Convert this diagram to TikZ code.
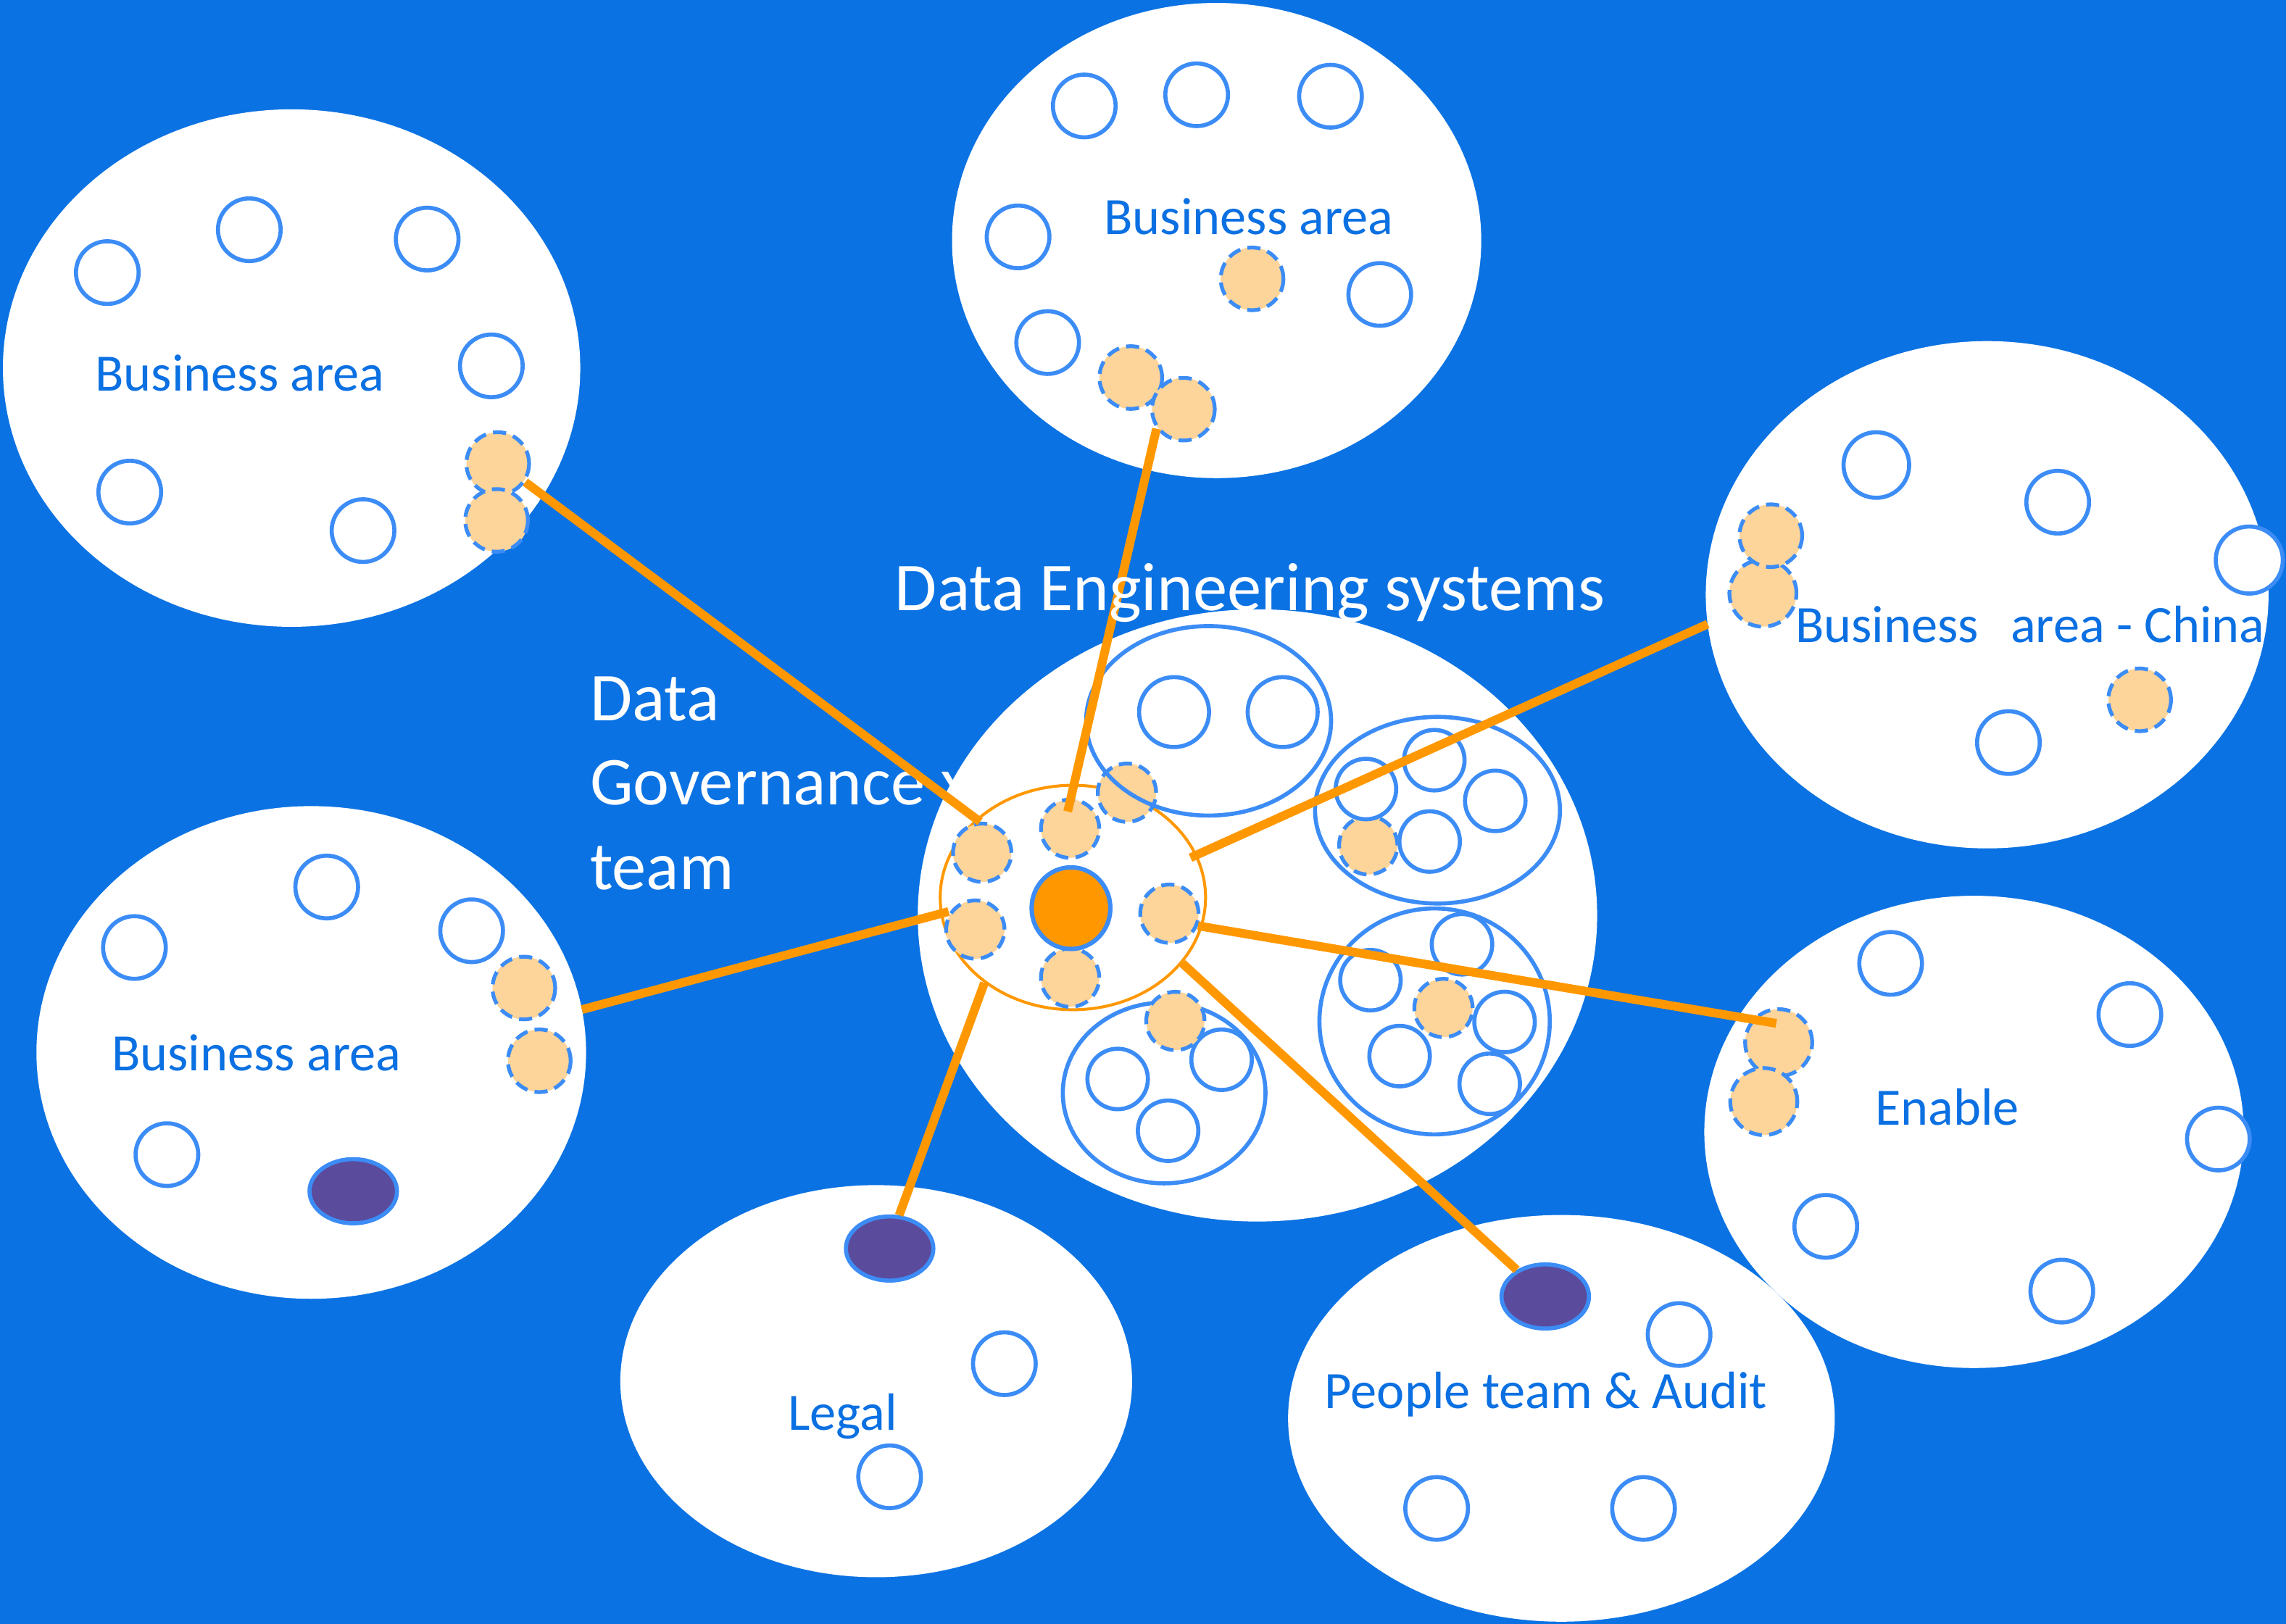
\documentclass[tikz,border=0pt]{standalone}
\usepackage{fontspec}
\setmainfont{Carlito}
\usetikzlibrary{shapes.geometric,calc}
\definecolor{bgblue}{RGB}{11,114,227}
\definecolor{txtblue}{RGB}{11,112,226}
\definecolor{lineblue}{RGB}{60,140,246}
\definecolor{peach}{RGB}{253,212,154}
\definecolor{dgorange}{RGB}{255,152,0}
\definecolor{purp}{RGB}{91,75,157}
\begin{document}
\begin{tikzpicture}[x=1pt,y=-1pt,
  big/.style={ellipse,fill=white,inner sep=0pt,outer sep=0pt},
  sc/.style={circle,draw=lineblue,line width=2.8pt,fill=white,minimum size=43pt,inner sep=0pt},
  scs/.style={sc,minimum size=41.5pt},
  pc/.style={circle,draw=lineblue,line width=2.6pt,dash pattern=on 9pt off 5pt,fill=peach,minimum size=43pt,inner sep=0pt},
  pcs/.style={pc,minimum size=40pt},
  pcl/.style={pc,minimum size=46pt},
  pur/.style={ellipse,draw=lineblue,line width=2.8pt,fill=purp,minimum width=60pt,minimum height=44pt,inner sep=0pt},
  grp/.style={ellipse,draw=lineblue,line width=2.8pt,inner sep=0pt},
  conn/.style={draw=dgorange,line width=6pt},
  lbl/.style={text=txtblue,font=\fontsize{36}{43}\selectfont,inner sep=0pt,anchor=base},
  wlbl/.style={text=white,font=\fontsize{47}{56}\selectfont,inner sep=0pt}]
\useasboundingbox (0,0) rectangle (1568,1114);
\fill[bgblue] (0,0) rectangle (1568,1114);

% Data Governance team label (partly hidden behind the central ellipse)
\node[wlbl,anchor=base west] (dg1) at (404.5,494.6) {Data};
\node[wlbl,anchor=base west] (dg2) at (404.5,552) {Governance x};
\node[wlbl,anchor=base west] (dg3) at (404.5,610) {team};

% big white areas
\node[big,minimum width=396pt,minimum height=355pt] (baA) at (200,252.5) {};
\node[big,minimum width=363pt,minimum height=326pt] (baB) at (834.5,165) {};
\node[big,minimum width=386pt,minimum height=348pt] (baC) at (1363,408) {};
\node[big,minimum width=377pt,minimum height=338pt] (baD) at (213.5,722) {};
\node[big,minimum width=370pt,minimum height=324pt] (enab) at (1354,776.5) {};
\node[big,minimum width=351pt,minimum height=269pt] (legal) at (601,947.5) {};
\node[big,minimum width=375pt,minimum height=279pt] (people) at (1071,973) {};
\node[big,minimum width=466pt,minimum height=420pt] (des) at (862.5,628) {};

% central system
\node[ellipse,draw=dgorange,line width=2pt,minimum width=182pt,minimum height=154pt,inner sep=0pt] (ring) at (735.9,615.7) {};
\node[pcs] (c6) at (773,543.8) {};
\node[grp,minimum width=168pt,minimum height=130pt] (gT) at (829,494.5) {};
\node[sc,minimum width=46pt,minimum height=48pt] (t1) at (805.3,488.5) {};
\node[sc,minimum width=46pt,minimum height=48pt] (t2) at (879.8,488.5) {};
\node[grp,minimum width=168pt,minimum height=128pt] (gUR) at (986,555.8) {};
\node[pcs] (c8) at (938.5,579.9) {};
\node[scs] (u1) at (936.9,541.3) {};
\node[scs] (u2) at (983.8,521.5) {};
\node[scs] (u3) at (1025.6,549.4) {};
\node[scs] (u4) at (980.6,577.3) {};
\node[grp,minimum width=158pt,minimum height=155pt] (gLR) at (984,700.7) {};
\node[scs] (r1) at (1002.8,647.8) {};
\node[scs] (r2) at (940,672.4) {};
\node[scs] (r3) at (1032,701.1) {};
\node[scs] (r4) at (960,724.5) {};
\node[scs] (r5) at (1021.8,743.5) {};
\node[pcs] (c9) at (990.1,691.5) {};
\node[grp,minimum width=139pt,minimum height=124pt] (gLB) at (798.5,749.8) {};
\node[scs] (b1) at (766.6,740.2) {};
\node[scs] (b2) at (837.9,727) {};
\node[scs] (b3) at (801.2,775.7) {};
\node[pcs] (c7) at (806.2,700.4) {};
\node[pcs] (c1) at (734,568.5) {};
\node[pcs] (c2) at (673.7,585) {};
\node[pcs] (c3) at (669,637.7) {};
\node[pcs] (c4) at (734,670.7) {};
\node[pcs] (c5) at (802.1,626.8) {};
\node[ellipse,draw=lineblue,line width=3pt,fill=dgorange,minimum width=54pt,minimum height=56pt,inner sep=0pt] (core) at (734.6,623) {};

% top-left business area
\node[sc] at (73.6,187) {};
\node[sc] at (171,157.6) {};
\node[sc] at (293,164) {};
\node[sc] at (337,251) {};
\node[sc] at (89,337.6) {};
\node[sc] at (249,364) {};
\node[pc] (ap1) at (341.4,318) {};
\node[pc] (ap2) at (340.6,357) {};

% top business area
\node[sc] at (743.7,72.7) {};
\node[sc] at (820.8,65) {};
\node[sc] at (912.6,66) {};
\node[sc] at (698.3,162.5) {};
\node[sc] at (946.4,202) {};
\node[sc] at (718.6,235) {};
\node[pc] (bp1) at (858.8,191.3) {};
\node[pc] (bp2) at (775.6,259) {};
\node[pc] (bp3) at (811.7,280.7) {};

% China
\node[sc,minimum size=45pt] at (1287,319) {};
\node[sc] at (1411.4,344.5) {};
\node[sc,minimum size=46pt] at (1542.8,384.2) {};
\node[sc] at (1377.6,509.4) {};
\node[pcl] (cp2) at (1209.2,406.9) {};
\node[pc] (cp1) at (1214.6,367.5) {};
\node[pc] (cp3) at (1467.6,480.1) {};

% left business area
\node[sc] at (92.2,650) {};
\node[sc] at (224.1,608.5) {};
\node[sc] at (323.5,638.5) {};
\node[sc] at (114.5,792.1) {};
\node[pc] (dp1) at (359.3,677.8) {};
\node[pc] (dp2) at (369.9,727.7) {};
\node[pur] (dpur) at (242.3,817.2) {};

% Enable
\node[sc] at (1296.8,660.9) {};
\node[sc] at (1460.9,696) {};
\node[sc] at (1521.6,781.4) {};
\node[sc] at (1252.3,841.3) {};
\node[sc] at (1414.2,885.7) {};
\node[pcl] (ep1) at (1220,715.3) {};
\node[pcl] (ep2) at (1209.8,755.7) {};

% Legal
\node[pur] (lpur) at (610.2,856.5) {};
\node[sc] at (688.9,935.5) {};
\node[sc] at (610.2,1013.1) {};

% People
\node[pur] (ppur) at (1059.9,889.4) {};
\node[sc] at (1151.7,915.5) {};
\node[sc] at (985.4,1034.8) {};
\node[sc] at (1127.3,1034.8) {};

% connectors
\draw[conn] (ap1.-34) -- (c2.94);
\draw[conn] (bp3.216) -- ($(c1.center)!0.56!(c1.98)$);
\draw[conn,shorten >=-5pt] (baC.186) -- (ring.19);
\draw[conn] (c5.-23) -- ($(ep1.center)!0.55!(ep1.97)$);
\draw[conn] (ring.-31) -- (ppur.137);
\draw[conn] (ring.-136) -- (lpur.74);
\draw[conn,shorten >=-6pt] (baD.9) -- (ring.187);

% labels
\node[wlbl,anchor=base] (detxt) at (857.3,419) {Data Engineering systems};
\node[lbl] (tA) at (164.5,268) {Business area};
\node[lbl] (tB) at (856.6,161) {Business area};
\node[lbl] (tC) at (1392.5,440.5) {Business\hspace{0.38em} area - China};
\node[lbl] (tD) at (175.9,734.4) {Business area};
\node[lbl] (tE) at (1335.6,772) {Enable};
\node[lbl] (tL) at (578,981) {Legal};
\node[lbl] (tP) at (1060.4,966) {People team \& Audit};
\end{tikzpicture}
\end{document}
